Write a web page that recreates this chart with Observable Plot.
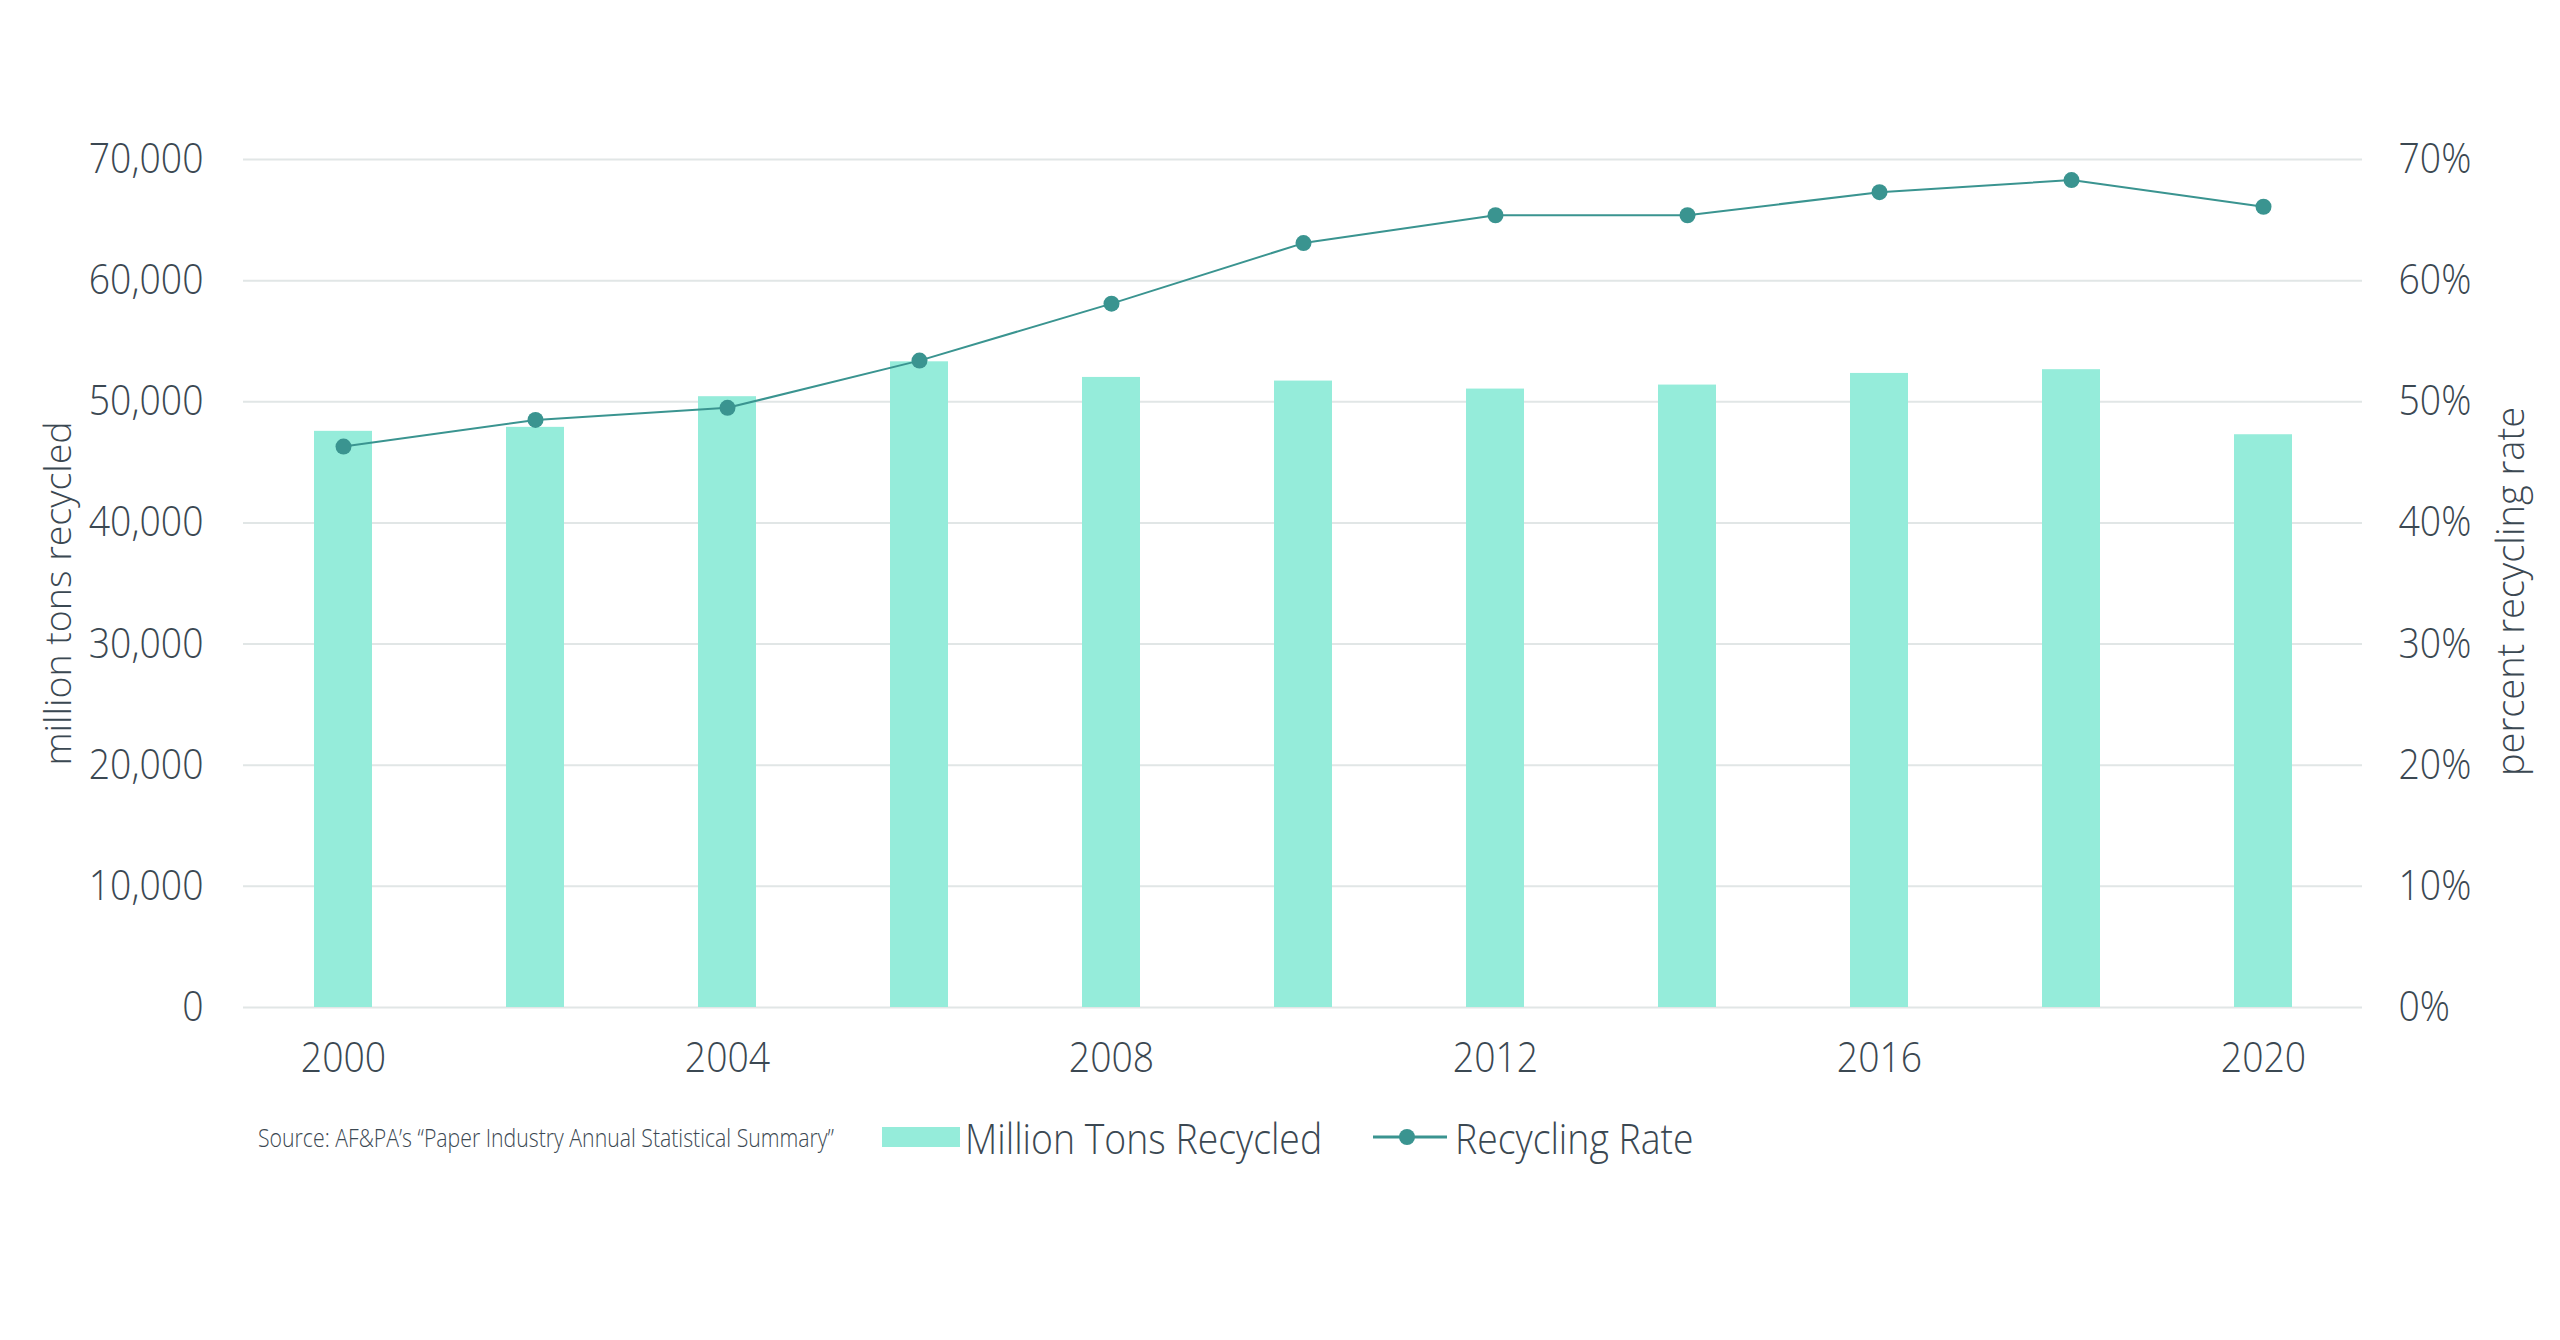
<!DOCTYPE html>
<html>
<head>
<meta charset="utf-8">
<script src="https://cdn.jsdelivr.net/npm/d3@7"></script>
<script src="https://cdn.jsdelivr.net/npm/@observablehq/plot@0.6"></script>
<style>
  html, body { margin: 0; padding: 0; background: #ffffff; }
  #chart svg { display: block; }
  #legend { position: relative; height: 70px; font-family: "Open Sans", sans-serif; font-weight: 300; color: #3b4852; }
  #legend .item { position: absolute; top: -3px; height: 70px; display: flex; align-items: center; white-space: nowrap; }
  #legend .narrow { display: inline-block; transform-origin: left center; }
</style>
</head>
<body>
<div id="chart"></div>
<div id="legend"></div>
<script>
// Data
const years = [2000, 2002, 2004, 2006, 2008, 2010, 2012, 2014, 2016, 2018, 2020];
const tonsRecycled = [47560, 47890, 50420, 53300, 52010, 51710, 51050, 51380, 52340, 52650, 47280];
const recyclingRate = [46.3, 48.5, 49.5, 53.4, 58.1, 63.1, 65.4, 65.4, 67.3, 68.3, 66.1];
const yTicks = [0, 10000, 20000, 30000, 40000, 50000, 60000, 70000];
const xTicks = [2000, 2004, 2008, 2012, 2016, 2020];
const seriesNames = ["Million Tons Recycled", "Recycling Rate"];
const sourceText = "Source: AF&PA’s “Paper Industry Annual Statistical Summary”";
const leftTitle = "million tons recycled";
const rightTitle = "percent recycling rate";

const barColor = "#95ecda";
const lineColor = "#3a9490";
const textColor = "#3b4852";
const narrow = 0.89; // the reference typeface is slightly narrower than Open Sans

const data = years.map((year, i) => ({year, tons: tonsRecycled[i], rate: recyclingRate[i]}));
// The rate axis (0–70%) shares the vertical extent with the tons axis (0–70,000)
const rateToY = d => d.rate * 1000;

const chart = Plot.plot({
  width: 2560,
  height: 1105,
  marginLeft: 243,
  marginRight: 198,
  marginTop: 159,
  marginBottom: 98,
  style: {fontFamily: "'Open Sans', sans-serif", fontWeight: 300, color: textColor, background: "#ffffff"},
  x: {type: "band", domain: years, paddingInner: 0.7, paddingOuter: 0.35},
  y: {domain: [0, 70000]},
  marks: [
    Plot.gridY(yTicks, {stroke: "#e1e6e6", strokeOpacity: 1, strokeWidth: 2}),
    Plot.barY(data, {x: "year", y: "tons", fill: barColor}),
    Plot.line(data, {x: "year", y: rateToY, stroke: lineColor, strokeWidth: 2}),
    Plot.dot(data, {x: "year", y: rateToY, r: 8, fill: lineColor, stroke: "none"}),
    Plot.axisX(xTicks, {tickSize: 0, tickPadding: 35, fontSize: 42, tickFormat: d => String(d), label: null}),
    Plot.axisY(yTicks, {anchor: "left", tickSize: 0, tickPadding: 40, fontSize: 42,
      tickFormat: d3.format(","), label: null}),
    Plot.axisY(yTicks, {anchor: "right", tickSize: 0, tickPadding: 36, fontSize: 42,
      tickFormat: d => (d / 1000) + "%", label: null}),
    Plot.text([leftTitle], {frameAnchor: "left", dx: -185, dy: 10, rotate: -90, fontSize: 37.5,
      textAnchor: "middle", lineAnchor: "middle", fill: textColor}),
    Plot.text([rightTitle], {frameAnchor: "right", dx: 149, dy: 8, rotate: -90, fontSize: 38,
      textAnchor: "middle", lineAnchor: "middle", fill: textColor})
  ]
});
document.getElementById("chart").appendChild(chart);

// Slightly narrow the tick labels (glyph compression only; positions are untouched)
d3.select(chart).selectAll('g[aria-label$="tick label"] text').each(function() {
  const len = this.getComputedTextLength();
  if (len > 0) {
    this.setAttribute("textLength", (len * narrow).toFixed(2));
    this.setAttribute("lengthAdjust", "spacingAndGlyphs");
  }
});

// Legend below the chart
const legend = d3.select("#legend");
legend.append("div").attr("class", "item").style("left", "258px")
  .append("span").attr("class", "narrow").style("transform", "scaleX(0.85)")
  .style("font-size", "25px").text(sourceText);

const barItem = legend.append("div").attr("class", "item").style("left", "882px");
barItem.append("div").style("width", "78px").style("height", "20px").style("background", barColor).style("margin-right", "5px");
barItem.append("span").attr("class", "narrow").style("transform", `scaleX(${narrow})`)
  .style("font-size", "42px").text(seriesNames[0]);

const lineItem = legend.append("div").attr("class", "item").style("left", "1373px");
const sw = lineItem.append("svg").attr("width", 74).attr("height", 20).style("margin-right", "8px");
sw.append("line").attr("x1", 0).attr("x2", 74).attr("y1", 10).attr("y2", 10).attr("stroke", lineColor).attr("stroke-width", 3);
sw.append("circle").attr("cx", 34).attr("cy", 10).attr("r", 8).attr("fill", lineColor);
lineItem.append("span").attr("class", "narrow").style("transform", `scaleX(${narrow})`)
  .style("font-size", "42px").text(seriesNames[1]);
</script>
</body>
</html>
